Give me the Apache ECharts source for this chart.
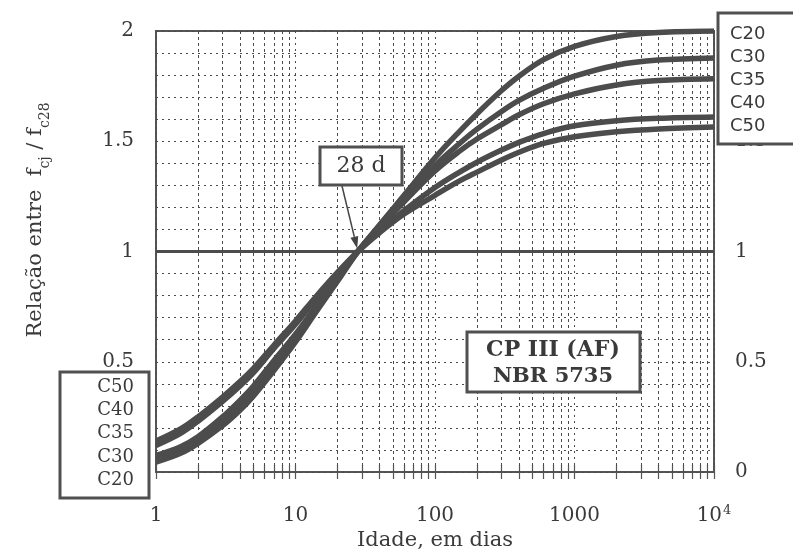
<!DOCTYPE html>
<html><head><meta charset="utf-8">
<script src="https://cdn.jsdelivr.net/npm/echarts@6/dist/echarts.min.js"></script>
<style>html,body{margin:0;padding:0;background:#fff}#c{width:793px;height:559px}</style>
</head><body><div id="c"></div>
<script>
// ---- data ----
const ages = [1, 1.5, 2, 3, 4, 5, 7, 10, 14, 20, 28, 40, 60, 100, 150, 200, 300, 400, 600, 1000, 2000, 4000, 10000];
const C20 = [0.045, 0.085, 0.13, 0.21, 0.28, 0.345, 0.46, 0.59, 0.725, 0.865, 1.0, 1.12, 1.255, 1.425, 1.545, 1.625, 1.73, 1.795, 1.87, 1.93, 1.975, 1.993, 2.0];
const C30 = [0.06, 0.10, 0.145, 0.235, 0.305, 0.37, 0.485, 0.61, 0.74, 0.875, 1.0, 1.115, 1.24, 1.39, 1.49, 1.555, 1.635, 1.685, 1.74, 1.795, 1.845, 1.868, 1.878];
const C35 = [0.075, 0.115, 0.16, 0.25, 0.325, 0.39, 0.505, 0.625, 0.75, 0.88, 1.0, 1.105, 1.225, 1.365, 1.455, 1.51, 1.575, 1.62, 1.67, 1.715, 1.755, 1.775, 1.783];
const C40 = [0.12, 0.175, 0.23, 0.32, 0.39, 0.45, 0.56, 0.67, 0.785, 0.9, 1.0, 1.09, 1.185, 1.29, 1.36, 1.405, 1.46, 1.495, 1.535, 1.57, 1.593, 1.604, 1.61];
const C50 = [0.14, 0.195, 0.25, 0.34, 0.41, 0.47, 0.575, 0.685, 0.795, 0.905, 1.0, 1.085, 1.17, 1.255, 1.32, 1.36, 1.415, 1.45, 1.49, 1.52, 1.543, 1.556, 1.565];
const classNames = ['C20', 'C30', 'C35', 'C40', 'C50'];
const classValues = [C20, C30, C35, C40, C50];
const rightLegendOrder = ['C20', 'C30', 'C35', 'C40', 'C50'];
const leftLegendOrder = ['C50', 'C40', 'C35', 'C30', 'C20'];
const minorAges = [2,3,4,5,6,7,8,9,20,30,40,50,60,70,80,90,200,300,400,500,600,700,800,900,2000,3000,4000,5000,6000,7000,8000,9000];
const decadeAges = [1, 10, 100, 1000, 10000];
const refAge = 28, refRatio = 1;
const xTitle = 'Idade, em dias';
const boxTitle = ['CP III (AF)', 'NBR 5735'];
const refLabel = '28 d';

const INK = '#3a3a3a', LINE = '#4c4c4c';
const SERIF = '"DejaVu Serif", serif', SANS = '"DejaVu Sans", sans-serif';
const dotted = {color: '#4a4a4a', width: 1, type: [2, 4]};
const tickAges = decadeAges.concat(minorAges).sort((a, b) => a - b);

const chart = echarts.init(document.getElementById('c'), null, {renderer: 'canvas'});

const series = classNames.map((n, i) => ({
  name: n, type: 'line', smooth: 0.35, showSymbol: false, symbol: 'none', z: 5,
  lineStyle: {color: LINE, width: 5.5},
  data: ages.map((a, j) => [a, classValues[i][j]])
}));
series.push({
  name: 'grid', type: 'line', data: [], z: 1, silent: true,
  markLine: {silent: true, symbol: ['none', 'none'], label: {show: false}, animation: false,
    lineStyle: dotted,
    data: minorAges.map(v => ({xAxis: v}))}
});
series.push({
  name: 'ref', type: 'line', data: [], z: 3, silent: true,
  markLine: {silent: true, symbol: ['none', 'none'], label: {show: false}, animation: false,
    lineStyle: {color: LINE, width: 3, type: 'solid'},
    data: [{yAxis: refRatio}]}
});

const tickStyle = {show: true, inside: true, length: 7, lineStyle: {color: '#555', width: 1.2}, customValues: tickAges};
chart.setOption({
  animation: false,
  backgroundColor: '#fff',
  grid: {left: 156, right: 79, top: 31, bottom: 87, show: true, borderColor: '#555', borderWidth: 2, backgroundColor: 'transparent'},
  xAxis: [{
    type: 'log', logBase: 10, min: 1, max: 10000, splitNumber: 4, position: 'bottom',
    axisLine: {show: false}, axisTick: tickStyle,
    splitLine: {show: true, lineStyle: dotted},
    axisLabel: {margin: 32, fontFamily: SERIF, fontSize: 20, color: INK, lineHeight: 24,
      formatter: v => (Math.round(v) === 10000 ? '10{sup|4}' : String(Math.round(v))),
      rich: {sup: {fontFamily: SERIF, fontSize: 13, color: INK, verticalAlign: 'top', lineHeight: 12, padding: [0, 0, 10, 1]}}}
  }, {
    type: 'log', logBase: 10, min: 1, max: 10000, splitNumber: 4, position: 'top',
    axisLine: {show: false}, axisTick: tickStyle, splitLine: {show: false}, axisLabel: {show: false}
  }],
  yAxis: [{
    type: 'value', min: 0, max: 2, interval: 0.5, position: 'left',
    axisLine: {show: false}, axisTick: {show: false},
    splitLine: {show: true, lineStyle: dotted},
    minorTick: {show: false, splitNumber: 5},
    minorSplitLine: {show: true, lineStyle: dotted},
    axisLabel: {margin: 22, fontFamily: SERIF, fontSize: 20, color: INK, formatter: v => String(v)}
  }, {
    type: 'value', min: 0, max: 2, interval: 0.5, position: 'right',
    axisLine: {show: false}, axisTick: {show: false}, splitLine: {show: false},
    axisLabel: {margin: 21, fontFamily: SERIF, fontSize: 20, color: INK, formatter: v => String(v)}
  }],
  series: series
});

const tip = chart.convertToPixel({xAxisIndex: 0, yAxisIndex: 0}, [refAge, refRatio]);
const start = [342, 186];
const dx = tip[0] - start[0], dy = tip[1] - start[1];
const len = Math.sqrt(dx * dx + dy * dy), ux = dx / len, uy = dy / len;
const end = [tip[0] - ux * 3, tip[1] - uy * 3];
const hb = [end[0] - ux * 12, end[1] - uy * 12];
const px = -uy, py = ux;

function box(x, y, w, h) {
  return {type: 'rect', shape: {x, y, width: w, height: h}, z: 20,
    style: {fill: '#fff', stroke: '#505050', lineWidth: 3}};
}
function txt(x, y, t, font, align) {
  return {type: 'text', x, y, z: 21,
    style: {text: t, font, fill: INK, align: align || 'left', verticalAlign: 'middle'}};
}
const g = [];
g.push(box(718, 13, 90, 131));
rightLegendOrder.forEach((n, i) => g.push(txt(730, [34, 57, 80, 103, 126][i], n, '18px ' + SANS)));
g.push(box(60, 372, 89, 126));
leftLegendOrder.forEach((n, i) => g.push(txt(134, [387, 410, 433, 457, 480][i], n, '18px ' + SERIF, 'right')));
g.push(box(320, 147, 82, 38));
g.push(txt(361, 166, refLabel, '22px ' + SERIF, 'center'));
g.push({type: 'line', z: 19, shape: {x1: start[0], y1: start[1], x2: hb[0], y2: hb[1]}, style: {stroke: '#444', lineWidth: 1.5}});
g.push({type: 'polygon', z: 19, shape: {points: [end, [hb[0] + px * 4, hb[1] + py * 4], [hb[0] - px * 4, hb[1] - py * 4]]}, style: {fill: '#444'}});
g.push(box(467, 332, 173, 60));
g.push(txt(553, 350, boxTitle[0], 'bold 22px ' + SERIF, 'center'));
g.push(txt(553, 377, boxTitle[1], 'bold 21px ' + SERIF, 'center'));
g.push(txt(435, 541, xTitle, '21px ' + SERIF, 'center'));
g.push({type: 'text', x: 36, y: 220, rotation: Math.PI / 2, z: 21,
  style: {text: 'Relação entre  f{s|cj} / f{s|c28}', fontFamily: SERIF, fontSize: 21, lineHeight: 32, fill: INK,
    align: 'center', verticalAlign: 'middle',
    rich: {s: {fontFamily: SERIF, fontSize: 14, lineHeight: 15, fill: INK, verticalAlign: 'bottom'}}}});
chart.setOption({graphic: {elements: g}});
</script></body></html>
